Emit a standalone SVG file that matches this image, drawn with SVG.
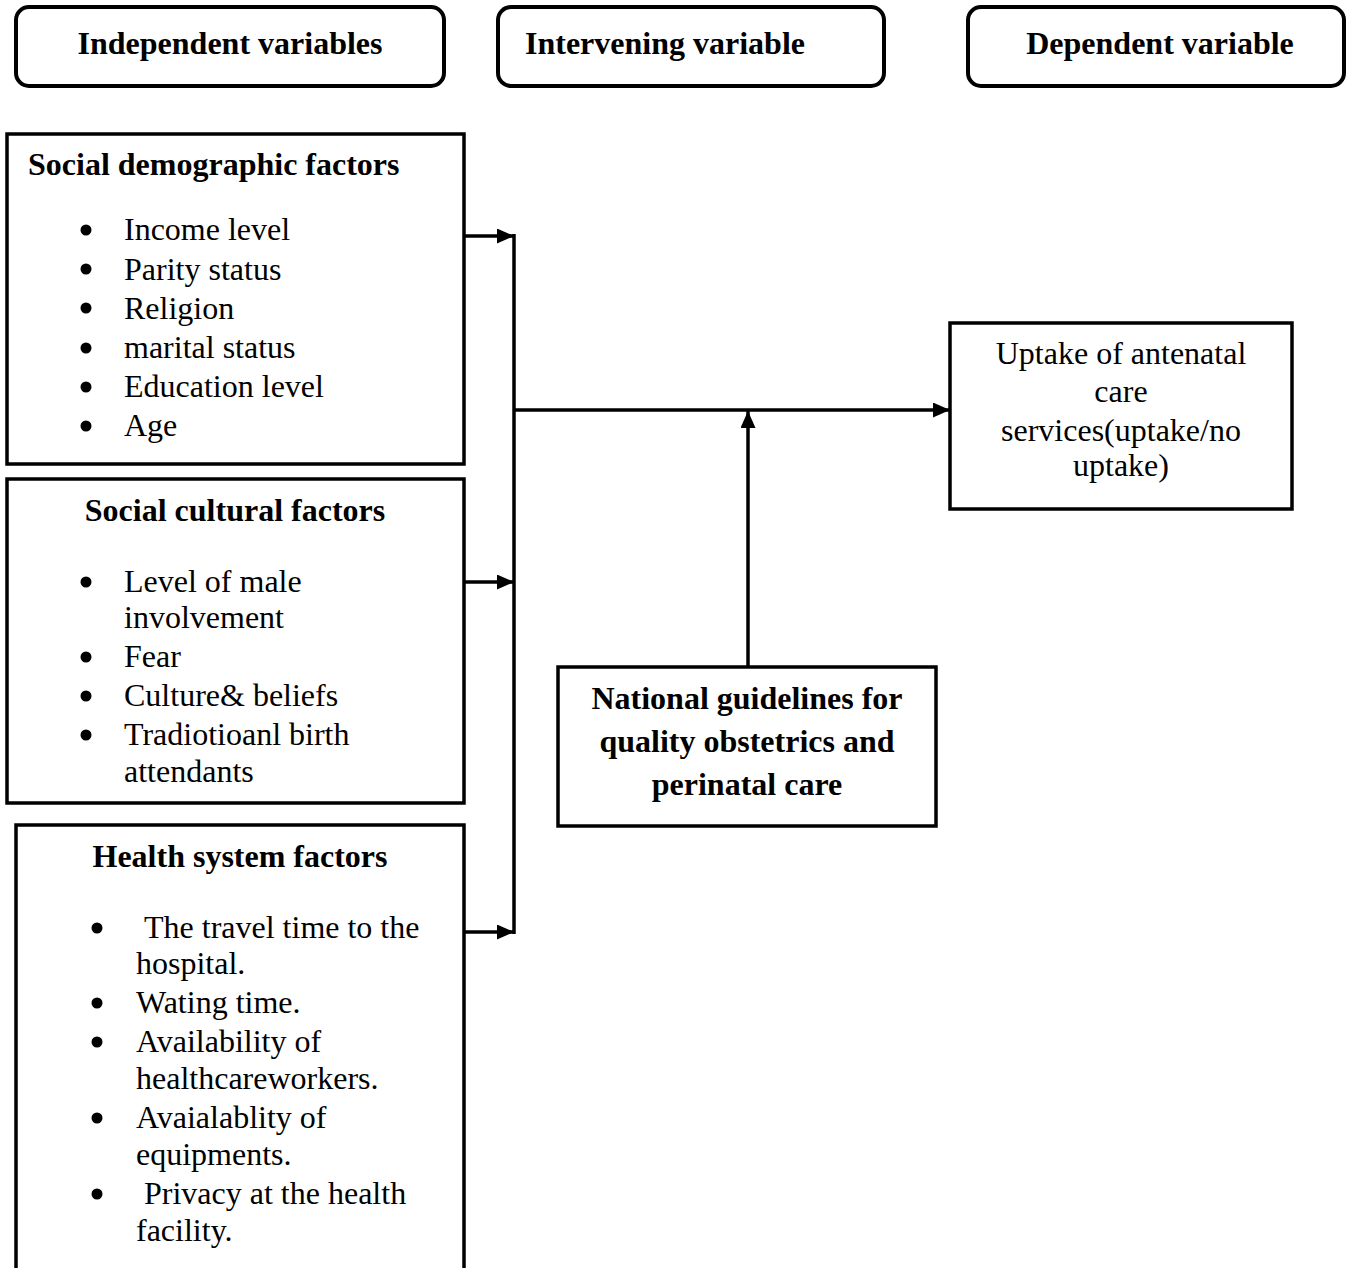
<svg xmlns="http://www.w3.org/2000/svg" width="1346" height="1268" viewBox="0 0 1346 1268">
<style>
.hdr{fill:#fff;stroke:#000;stroke-width:4}
.box{fill:#fff;stroke:#000;stroke-width:3.5}
.t{font-family:"Liberation Serif","Times New Roman",serif;font-size:32px;fill:#000}
.b{font-weight:bold}
.c{text-anchor:middle}
.ln{stroke:#000;stroke-width:3.5;fill:none}
.dot{fill:#000}
</style>
<defs>
<marker id="ah" markerUnits="userSpaceOnUse" markerWidth="17" markerHeight="15" refX="17" refY="7.5" orient="auto">
<path d="M0,0 L17,7.5 L0,15 Z" fill="#000"/>
</marker>
</defs>
<rect width="1346" height="1268" fill="#fff"/>
<g id="hdr-independent">
<rect class="hdr" x="16" y="7" width="428" height="79" rx="13"/>
<text class="t b c" x="230" y="54">Independent variables</text>
</g>
<g id="hdr-intervening">
<rect class="hdr" x="498" y="7" width="386" height="79" rx="13"/>
<text class="t b c" x="665" y="54">Intervening variable</text>
</g>
<g id="hdr-dependent">
<rect class="hdr" x="968" y="7" width="376" height="79" rx="13"/>
<text class="t b c" x="1160" y="54">Dependent variable</text>
</g>
<g id="social-demographic">
<rect class="box" x="7" y="134" width="457" height="330"/>
<text class="t b" x="28" y="175">Social demographic factors</text>
<circle class="dot" cx="86" cy="230" r="5.5"/><text class="t" x="124" y="240">Income level</text>
<circle class="dot" cx="86" cy="269" r="5.5"/><text class="t" x="124" y="280">Parity status</text>
<circle class="dot" cx="86" cy="308" r="5.5"/><text class="t" x="124" y="319">Religion</text>
<circle class="dot" cx="86" cy="348" r="5.5"/><text class="t" x="124" y="358">marital status</text>
<circle class="dot" cx="86" cy="387" r="5.5"/><text class="t" x="124" y="397">Education level</text>
<circle class="dot" cx="86" cy="426" r="5.5"/><text class="t" x="124" y="436">Age</text>
</g>
<g id="social-cultural">
<rect class="box" x="7" y="479" width="457" height="324"/>
<text class="t b c" x="235" y="521">Social cultural factors</text>
<circle class="dot" cx="86" cy="582" r="5.5"/><text class="t" x="124" y="592">Level of male</text>
<text class="t" x="124" y="628">involvement</text>
<circle class="dot" cx="86" cy="657" r="5.5"/><text class="t" x="124" y="667">Fear</text>
<circle class="dot" cx="86" cy="696" r="5.5"/><text class="t" x="124" y="706">Culture&amp; beliefs</text>
<circle class="dot" cx="86" cy="735" r="5.5"/><text class="t" x="124" y="745">Tradiotioanl birth</text>
<text class="t" x="124" y="782">attendants</text>
</g>
<g id="health-system">
<rect class="box" x="16" y="825" width="448" height="460"/>
<text class="t b c" x="240" y="867">Health system factors</text>
<circle class="dot" cx="97" cy="928" r="5.5"/><text class="t" x="144" y="938">The travel time to the</text>
<text class="t" x="136" y="974">hospital.</text>
<circle class="dot" cx="97" cy="1003" r="5.5"/><text class="t" x="136" y="1013">Wating time.</text>
<circle class="dot" cx="97" cy="1042" r="5.5"/><text class="t" x="136" y="1052">Availability of</text>
<text class="t" x="136" y="1089">healthcareworkers.</text>
<circle class="dot" cx="97" cy="1118" r="5.5"/><text class="t" x="136" y="1128">Avaialablity of</text>
<text class="t" x="136" y="1165">equipments.</text>
<circle class="dot" cx="97" cy="1194" r="5.5"/><text class="t" x="144" y="1204">Privacy at the health</text>
<text class="t" x="136" y="1241">facility.</text>
</g>
<g id="uptake">
<rect class="box" x="950" y="323" width="342" height="186"/>
<text class="t c" x="1121" y="364">Uptake of antenatal</text>
<text class="t c" x="1121" y="402">care</text>
<text class="t c" x="1121" y="441">services(uptake/no</text>
<text class="t c" x="1121" y="476">uptake)</text>
</g>
<g id="national-guidelines">
<rect class="box" x="558" y="667" width="378" height="159"/>
<text class="t b c" x="747" y="709">National guidelines for</text>
<text class="t b c" x="747" y="752">quality obstetrics and</text>
<text class="t b c" x="747" y="795">perinatal care</text>
</g>
<g id="connectors">
<line class="ln" x1="514" y1="234" x2="514" y2="934"/>
<line class="ln" x1="464" y1="236" x2="514" y2="236" marker-end="url(#ah)"/>
<line class="ln" x1="464" y1="582" x2="514" y2="582" marker-end="url(#ah)"/>
<line class="ln" x1="464" y1="932" x2="514" y2="932" marker-end="url(#ah)"/>
<line class="ln" x1="514" y1="410" x2="950" y2="410" marker-end="url(#ah)"/>
<line class="ln" x1="748" y1="667" x2="748" y2="411" marker-end="url(#ah)"/>
</g>
</svg>
